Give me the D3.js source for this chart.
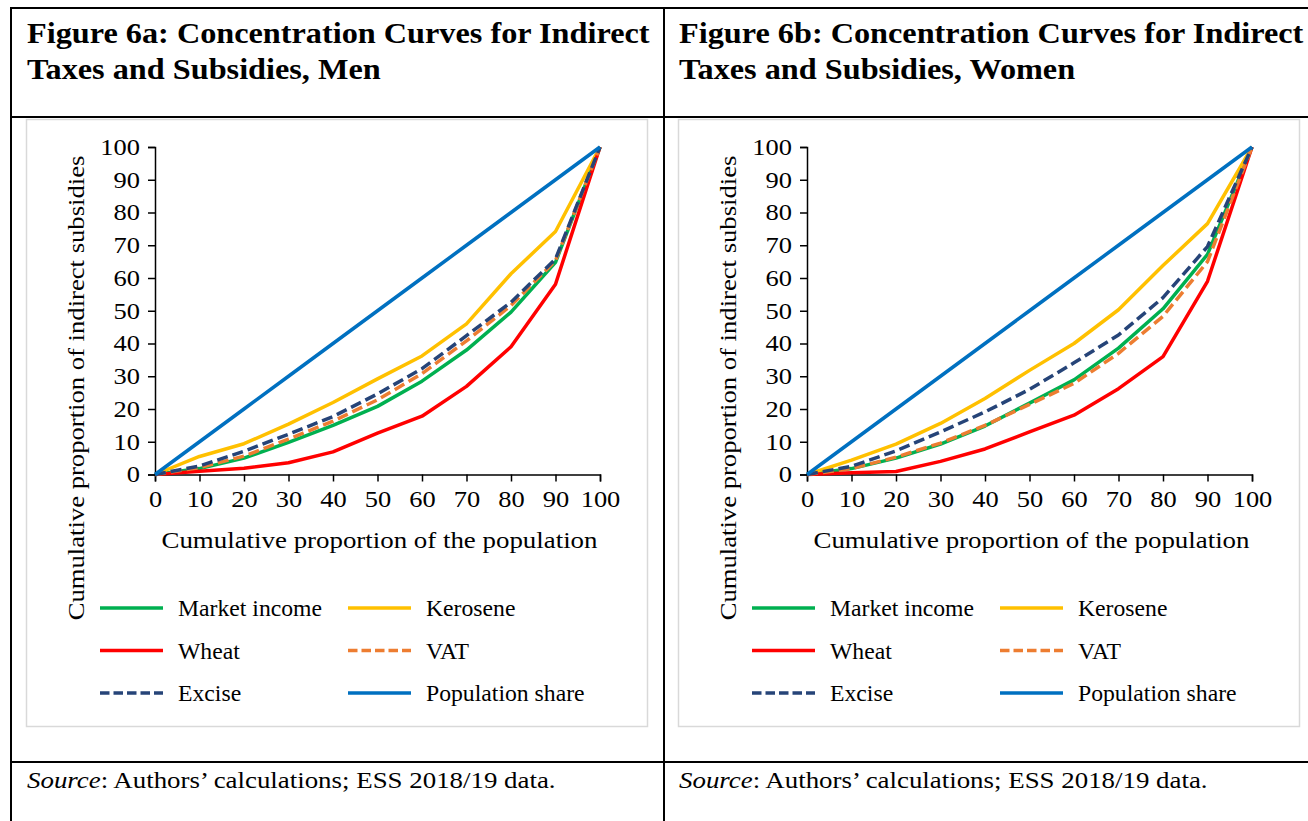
<!DOCTYPE html>
<html>
<head>
<meta charset="utf-8">
<script src="https://cdn.jsdelivr.net/npm/d3@7"></script>
<style>
  html, body { margin: 0; padding: 0; background: #fff; }
  svg { display: block; }
  text { font-family: "Liberation Serif", "Times New Roman", serif; fill: #000; }
</style>
</head>
<body>
<svg id="fig" width="1308" height="821"></svg>
<script>
// Cumulative population share (deciles)
const populationShare = [0, 10, 20, 30, 40, 50, 60, 70, 80, 90, 100];

// Men
const menMarketIncome = [0, 1.8, 5.0, 9.8, 15.0, 20.8, 28.5, 38.0, 49.6, 64.8, 100];
const menKerosene     = [0, 5.5, 9.4, 15.4, 22.0, 29.2, 36.2, 46.0, 61.3, 74.2, 100];
const menWheat        = [0, 1.0, 1.9, 3.6, 6.9, 12.6, 17.8, 26.9, 39.0, 58.1, 100];
const menVAT          = [0, 2.1, 5.6, 10.8, 16.3, 22.8, 30.8, 40.8, 51.6, 65.3, 100];
const menExcise       = [0, 2.6, 7.1, 12.3, 17.7, 24.6, 32.3, 42.4, 52.6, 65.8, 100];

// Women
const womenMarketIncome = [0, 1.8, 5.0, 9.3, 14.8, 21.8, 28.9, 38.6, 50.6, 67.2, 100];
const womenKerosene     = [0, 4.4, 9.3, 15.6, 23.2, 31.8, 40.0, 50.3, 63.8, 76.6, 100];
const womenWheat        = [0, 0.5, 0.9, 4.0, 7.8, 13.0, 18.1, 26.2, 36.0, 59.0, 100];
const womenVAT          = [0, 1.8, 5.3, 9.6, 15.0, 21.4, 27.8, 37.0, 48.3, 65.0, 100];
const womenExcise       = [0, 2.5, 7.2, 13.0, 19.1, 26.0, 34.1, 42.6, 54.0, 69.6, 100];

const xTicks = [0, 10, 20, 30, 40, 50, 60, 70, 80, 90, 100];
const yTicks = [0, 10, 20, 30, 40, 50, 60, 70, 80, 90, 100];

const seriesNames  = ["Market income", "Kerosene", "Wheat", "VAT", "Excise", "Population share"];
const seriesColors = ["#00B050", "#FFC000", "#FF0000", "#ED7D31", "#264478", "#0070C0"];
const seriesDashed = [false, false, false, true, true, false];

const panels = [
  {
    title: ["Figure 6a: Concentration Curves for Indirect", "Taxes and Subsidies, Men"],
    values: [menMarketIncome, menKerosene, menWheat, menVAT, menExcise, populationShare]
  },
  {
    title: ["Figure 6b: Concentration Curves for Indirect", "Taxes and Subsidies, Women"],
    values: [womenMarketIncome, womenKerosene, womenWheat, womenVAT, womenExcise, populationShare]
  }
];

// The document typeface is set slightly wide; widen glyphs by a factor.
function widen(sel, factor) {
  sel.each(function () {
    const w = this.getComputedTextLength();
    d3.select(this).attr("textLength", w * factor).attr("lengthAdjust", "spacingAndGlyphs");
  });
}

const svg = d3.select("#fig");
svg.append("rect").attr("width", 1308).attr("height", 821).attr("fill", "#fff");

// Table frame
const frame = svg.append("g").attr("stroke", "#000").attr("stroke-width", 2);
frame.append("line").attr("x1", 11).attr("x2", 1308).attr("y1", 8).attr("y2", 8);
frame.append("line").attr("x1", 11).attr("x2", 1308).attr("y1", 117).attr("y2", 117);
frame.append("line").attr("x1", 11).attr("x2", 1308).attr("y1", 762).attr("y2", 762);
frame.append("line").attr("x1", 11).attr("x2", 11).attr("y1", 7).attr("y2", 821);
frame.append("line").attr("x1", 664).attr("x2", 664).attr("y1", 7).attr("y2", 821);

const cellOffsets = [0, 652];

panels.forEach((p, i) => {
  const ox = cellOffsets[i];
  const g = svg.append("g").attr("transform", `translate(${ox},0)`);

  // Title
  p.title.forEach((t, k) => {
    g.append("text")
      .attr("x", 27).attr("y", 43 + k * 36)
      .attr("font-size", 30).attr("font-weight", "bold")
      .text(t)
      .call(widen, 1.075);
  });

  // Chart area border
  g.append("rect")
    .attr("x", 26.5).attr("y", 119.5).attr("width", 621).attr("height", 607)
    .attr("fill", "#fff").attr("stroke", "#d9d9d9").attr("stroke-width", 1.5);

  const x = d3.scaleLinear().domain([0, 100]).range([155, 600]);
  const y = d3.scaleLinear().domain([0, 100]).range([474.5, 147]);

  // Axes
  const xAxis = g.append("g").attr("transform", `translate(0,${y(0)})`)
    .call(d3.axisBottom(x).tickValues(xTicks).tickSize(7).tickPadding(9));
  const yAxis = g.append("g").attr("transform", `translate(${x(0)},0)`)
    .call(d3.axisLeft(y).tickValues(yTicks).tickSize(7).tickPadding(8));
  [xAxis, yAxis].forEach(a => {
    a.select(".domain").attr("stroke", "#000").attr("stroke-width", 1.5);
    a.selectAll(".tick line").attr("stroke", "#000").attr("stroke-width", 1.5);
    a.selectAll(".tick text")
      .attr("font-family", "Liberation Serif, Times New Roman, serif")
      .attr("font-size", 23).attr("fill", "#000")
      .call(widen, 1.15);
  });

  // Axis titles
  g.append("text")
    .attr("x", (x(0) + x(100)) / 2 + 2).attr("y", 548)
    .attr("text-anchor", "middle").attr("font-size", 24)
    .text("Cumulative proportion of the population")
    .call(widen, 1.12);
  g.append("text")
    .attr("transform", `translate(84,388) rotate(-90)`)
    .attr("text-anchor", "middle").attr("font-size", 24)
    .text("Cumulative proportion of indirect subsidies")
    .call(widen, 1.11);

  // Curves
  const line = d3.line().x((d, j) => x(populationShare[j])).y(d => y(d));
  p.values.forEach((vals, s) => {
    g.append("path")
      .datum(vals)
      .attr("d", line)
      .attr("fill", "none")
      .attr("stroke", seriesColors[s])
      .attr("stroke-width", 3.5)
      .attr("stroke-linejoin", "round")
      .attr("stroke-dasharray", seriesDashed[s] ? "11,5" : null);
  });

  // Legend (two columns, three rows)
  seriesNames.forEach((name, s) => {
    const col = s % 2, row = Math.floor(s / 2);
    const lx = 100 + col * 248, ly = 608 + row * 42.5;
    g.append("line")
      .attr("x1", lx).attr("x2", lx + 63).attr("y1", ly).attr("y2", ly)
      .attr("stroke", seriesColors[s]).attr("stroke-width", 3.5)
      .attr("stroke-dasharray", seriesDashed[s] ? "9.5,4" : null);
    g.append("text")
      .attr("x", lx + 78).attr("y", ly + 8)
      .attr("font-size", 23)
      .text(name)
      .call(widen, 1.03);
  });

  // Source note
  const src = g.append("text").attr("x", 27).attr("y", 788).attr("font-size", 24);
  src.append("tspan").attr("font-style", "italic").text("Source");
  src.append("tspan").text(": Authors\u2019 calculations; ESS 2018/19 data.");
  src.call(widen, 1.12);
});
</script>
</body>
</html>
